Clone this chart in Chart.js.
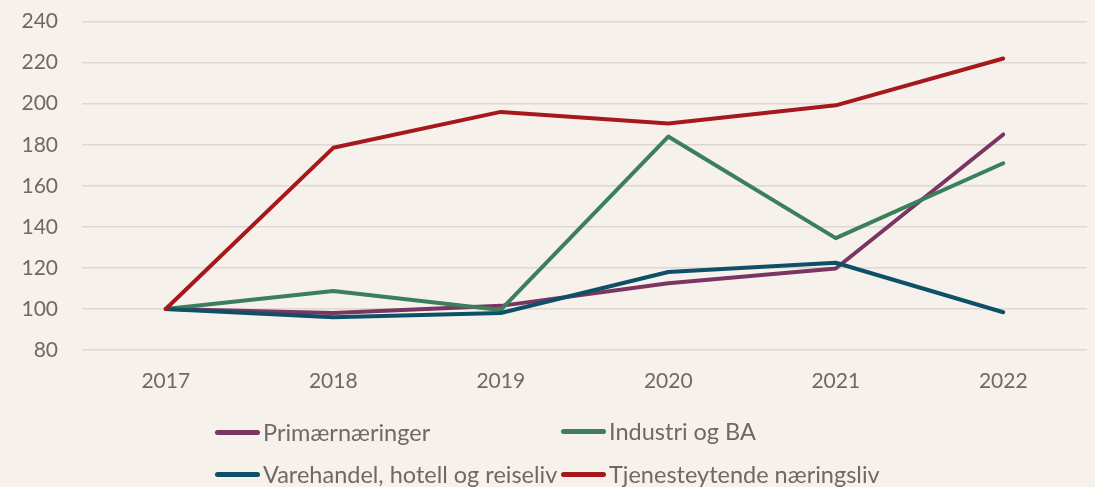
<!DOCTYPE html>
<html>
<head>
<meta charset="utf-8">
<script src="https://cdn.jsdelivr.net/npm/chart.js@4/dist/chart.umd.min.js"></script>
<style>
  html, body { margin: 0; padding: 0; background: #F7F1EC; }
  #wrap { position: relative; width: 1095px; height: 487px; background: #F7F1EC; overflow: hidden; }
  #chartBox { position: absolute; left: 0; top: -15px; width: 1095px; height: 415px; }
  #legend { position: absolute; left: 0; top: 0; width: 1095px; height: 487px; pointer-events: none;
            font-family: Lato, "Open Sans", sans-serif; font-size: 23.5px; color: #6F6866; }
  .item { position: absolute; display: flex; align-items: center; white-space: nowrap; }
  .swatch { width: 45px; height: 5px; border-radius: 3px; margin-right: 3px; }
</style>
</head>
<body>
<div id="wrap">
  <div id="chartBox"><canvas id="c"></canvas></div>
  <div id="legend"></div>
</div>
<script>
// Index, 2017 = 100
const years = ['2017', '2018', '2019', '2020', '2021', '2022'];
const primaer = [100, 98, 101.5, 112.5, 119.7, 185];
const industri = [100, 108.7, 99.5, 184, 134.5, 171];
const varehandel = [100, 96, 98, 118, 122.5, 98.4];
const tjeneste = [100, 178.5, 196, 190.3, 199.2, 222];
const yTicks = [80, 100, 120, 140, 160, 180, 200, 220, 240];

const seriesNames = ['Primærnæringer', 'Industri og BA', 'Varehandel, hotell og reiseliv', 'Tjenesteytende næringsliv'];
const seriesColors = ['#7A3563', '#3B7F5C', '#0D5067', '#A5181C'];
const seriesData = [primaer, industri, varehandel, tjeneste];
const drawOrder = [3, 2, 1, 0];

const textColor = '#6F6866';
const fontFamily = 'Lato, "Open Sans", sans-serif';

const datasets = seriesNames.map((name, i) => ({
  label: name,
  data: seriesData[i],
  borderColor: seriesColors[i],
  backgroundColor: seriesColors[i],
  borderWidth: 4,
  borderCapStyle: 'round',
  borderJoinStyle: 'round',
  pointRadius: 0,
  tension: 0,
  order: drawOrder[i]
}));

new Chart(document.getElementById('c'), {
  type: 'line',
  data: { labels: years, datasets },
  options: {
    responsive: true,
    maintainAspectRatio: false,
    animation: false,
    layout: { padding: { top: 5, right: 8, left: 0, bottom: 0 } },
    plugins: { legend: { display: false }, tooltip: { enabled: false } },
    scales: {
      x: {
        offset: true,
        grid: { display: false, drawTicks: false },
        border: { display: false },
        ticks: { color: textColor, font: { family: fontFamily, size: 21 }, padding: 19, maxRotation: 0 },
        afterFit: (axis) => { axis.height = 50; }
      },
      y: {
        min: 80,
        max: 240,
        afterBuildTicks: (axis) => { axis.ticks = yTicks.map(v => ({ value: v })); },
        grid: { color: '#DED7D3', lineWidth: 1.6, drawTicks: false },
        border: { display: false },
        ticks: { color: textColor, font: { family: fontFamily, size: 21 }, padding: 24 },
        afterFit: (axis) => { axis.width = 82; }
      }
    }
  }
});

// Two-column legend below the plot
const legendPos = [
  { x: 215, y: 432 }, { x: 561, y: 431 },
  { x: 215, y: 474 }, { x: 561, y: 474 }
];
const legend = document.getElementById('legend');
seriesNames.forEach((name, i) => {
  const item = document.createElement('div');
  item.className = 'item';
  item.style.left = legendPos[i].x + 'px';
  item.style.top = (legendPos[i].y - 15) + 'px';
  item.style.height = '30px';
  const sw = document.createElement('span');
  sw.className = 'swatch';
  sw.style.background = seriesColors[i];
  const tx = document.createElement('span');
  tx.textContent = name;
  item.appendChild(sw);
  item.appendChild(tx);
  legend.appendChild(item);
});
</script>
</body>
</html>
